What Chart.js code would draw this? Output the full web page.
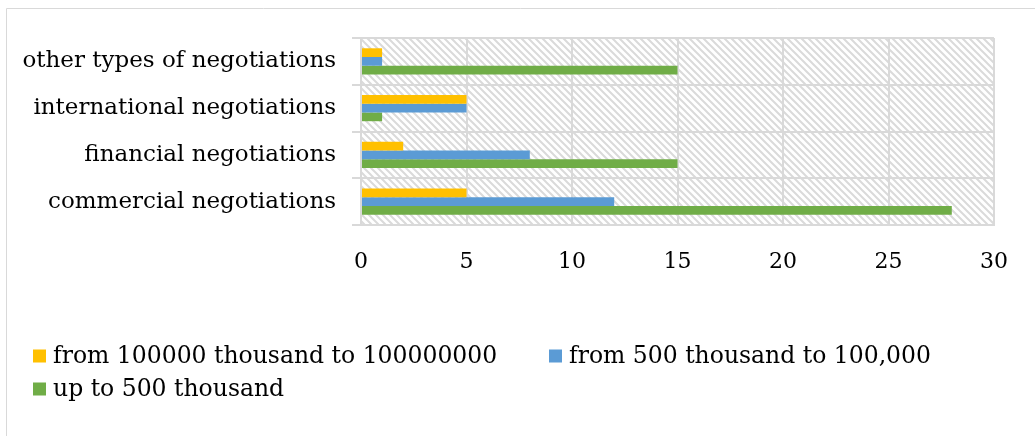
<!DOCTYPE html>
<html>
<head>
<meta charset="utf-8">
<script src="https://cdn.jsdelivr.net/npm/chart.js@4/dist/chart.umd.min.js"></script>
<style>
  html, body { margin: 0; padding: 0; background: #ffffff; }
  #wrap { width: 1035px; height: 436px; position: relative; }
</style>
</head>
<body>
<div id="wrap"><canvas id="chart" width="1035" height="436"></canvas></div>
<script>
// Negotiation types, listed top to bottom
const categories = [
  'other types of negotiations',
  'international negotiations',
  'financial negotiations',
  'commercial negotiations'
];
const seriesNames = [
  'from 100000 thousand to 100000000',
  'from 500 thousand to 100,000',
  'up to 500 thousand'
];
const largeDeals = [1, 5, 2, 5];
const mediumDeals = [1, 5, 8, 12];
const smallDeals = [15, 1, 15, 28];
const seriesColors = ['#FFC000', '#5B9BD5', '#70AD47'];
const xMin = 0, xMax = 30, xStep = 5;

const FONT = '"DejaVu Serif", "Liberation Serif", serif';
const GRID = '#d9d9d9';

function makeHatch(ctx) {
  const n = 7;
  const c = document.createElement('canvas');
  c.width = n; c.height = n;
  const g = c.getContext('2d');
  g.strokeStyle = '#dadada';
  g.lineWidth = 2;
  g.beginPath();
  g.moveTo(-1, -1); g.lineTo(n + 1, n + 1);
  g.moveTo(-1, n - 1); g.lineTo(1, n + 1);
  g.moveTo(n - 1, -1); g.lineTo(n + 1, 1);
  g.stroke();
  return ctx.createPattern(c, 'repeat');
}

// Hatched plot background and the outer frame
const backdrop = {
  id: 'backdrop',
  beforeDraw(chart) {
    const { ctx, chartArea: a } = chart;
    ctx.save();
    ctx.strokeStyle = GRID;
    ctx.lineWidth = 1;
    ctx.beginPath();
    ctx.moveTo(6.5, 436);
    ctx.lineTo(6.5, 8.5);
    ctx.lineTo(1035, 8.5);
    ctx.stroke();
    ctx.fillStyle = makeHatch(ctx);
    ctx.fillRect(a.left, a.top, a.right - a.left, a.bottom - a.top);
    ctx.restore();
  }
};

// Legend laid out in two columns below the plot
const gridLegend = {
  id: 'gridLegend',
  afterDraw(chart) {
    const { ctx } = chart;
    const slots = [[33, 356], [549, 356], [33, 389]];
    const box = 13;
    ctx.save();
    ctx.font = '23.5px ' + FONT;
    ctx.textBaseline = 'middle';
    ctx.textAlign = 'left';
    chart.data.datasets.forEach((ds, i) => {
      const [x, y] = slots[i];
      ctx.fillStyle = ds.backgroundColor;
      ctx.fillRect(x, y - box / 2, box, box);
      ctx.fillStyle = '#000000';
      ctx.fillText(ds.label, x + box + 7, y + 1);
    });
    ctx.restore();
  }
};

const datasets = [largeDeals, mediumDeals, smallDeals].map((vals, i) => ({
  label: seriesNames[i],
  data: vals,
  backgroundColor: seriesColors[i],
  borderWidth: 0,
  categoryPercentage: 0.56,
  barPercentage: 1.0
}));

new Chart(document.getElementById('chart'), {
  type: 'bar',
  data: { labels: categories, datasets },
  plugins: [backdrop, gridLegend],
  options: {
    indexAxis: 'y',
    responsive: false,
    animation: false,
    layout: { padding: { left: 0, right: 41, top: 38, bottom: 161 } },
    plugins: {
      legend: { display: false },
      tooltip: { enabled: false }
    },
    scales: {
      x: {
        min: xMin,
        max: xMax,
        ticks: { stepSize: xStep, color: '#000000', font: { family: FONT, size: 22 }, padding: 24 },
        grid: { color: GRID, lineWidth: 2, drawTicks: false },
        border: { color: GRID, width: 2 },
        afterFit(scale) { scale.height = 50; }
      },
      y: {
        ticks: { color: '#000000', font: { family: FONT, size: 23 }, padding: 16 },
        grid: { color: GRID, lineWidth: 2, offset: true, tickLength: 9, tickColor: GRID },
        border: { color: GRID, width: 2 },
        afterFit(scale) { scale.width = 361; }
      }
    }
  }
});
</script>
</body>
</html>
